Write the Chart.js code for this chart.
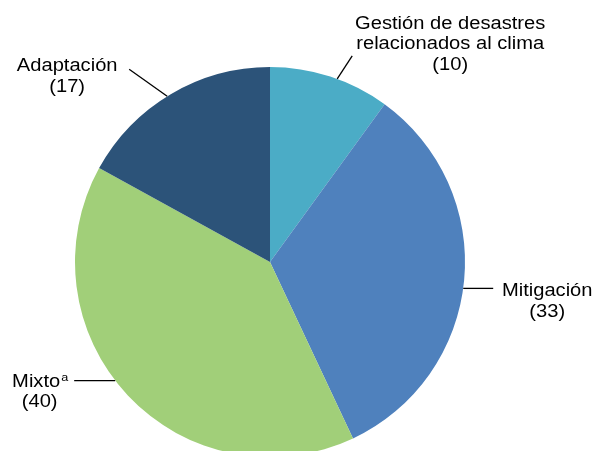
<!DOCTYPE html>
<html>
<head>
<meta charset="utf-8">
<script src="https://cdn.jsdelivr.net/npm/chart.js@4.4.0/dist/chart.umd.min.js"></script>
<style>
  html, body { margin: 0; padding: 0; background: #fff; overflow: hidden; }
  #wrap { width: 595px; height: 451px; overflow: hidden; }
</style>
</head>
<body>
<div id="wrap"><canvas id="pieChart" width="595" height="470"></canvas></div>
<script>
// categories and counts
const categories = ['Gestión de desastres relacionados al clima', 'Mitigación', 'Mixto', 'Adaptación'];
const counts = [10, 33, 40, 17];
const sliceColors = ['#4BACC6', '#4F81BD', '#A1CF79', '#2C5379'];

// label text lines per slice (last line is the count)
const labelLines = [
    ['Gestión de desastres', 'relacionados al clima', '(' + counts[0] + ')'],
    ['Mitigación', '(' + counts[1] + ')'],
    ['Mixto', '(' + counts[2] + ')'],
    ['Adaptación', '(' + counts[3] + ')']
];

// where the leader leaves the arc (fraction of the slice), which way it runs, and where the text sits
const labelLayout = [
    { frac: 0.56, lx: 15, ly: -23, dx: 98, dy: -27 },
    { frac: 0.52, lx: 30, ly: 0, dx: 54, dy: 8 },
    { frac: 0.54, lx: -41, ly: 0, dx: -34.5, dy: 6, sup: 'a' },
    { frac: 0.48, lx: -38, ly: -27, dx: -62, dy: 2 }
];

const FONT_SIZE = 17.5;
const LINE_H = 20.5;
const STRETCH = 1.15;
const FONT_FAMILY = '"Liberation Sans", Arial, sans-serif';

const leaderLabels = {
    id: 'leaderLabels',
    afterDatasetsDraw(chart) {
        const ctx = chart.ctx;
        const arcs = chart.getDatasetMeta(0).data;
        ctx.save();
        ctx.font = FONT_SIZE + 'px ' + FONT_FAMILY;
        ctx.fillStyle = '#000';
        ctx.strokeStyle = '#000';
        ctx.lineWidth = 1.3;
        arcs.forEach((arc, i) => {
            const p = arc.getProps(['x', 'y', 'startAngle', 'endAngle', 'outerRadius'], true);
            const lay = labelLayout[i];
            const a = p.startAngle + (p.endAngle - p.startAngle) * lay.frac;
            const sx = p.x + Math.cos(a) * p.outerRadius;
            const sy = p.y + Math.sin(a) * p.outerRadius;
            const ex = sx + lay.lx;
            const ey = sy + lay.ly;
            ctx.beginPath();
            ctx.moveTo(sx, sy);
            ctx.lineTo(ex, ey);
            ctx.stroke();

            const tx = ex + lay.dx;
            labelLines[i].forEach((line, k) => {
                const ty = ey + lay.dy + k * LINE_H;
                ctx.save();
                ctx.translate(tx, ty);
                ctx.scale(STRETCH, 1);
                ctx.textBaseline = 'alphabetic';
                if (k === 0 && lay.sup) {
                    // main word plus a small raised note letter, centred together
                    const w = ctx.measureText(line).width;
                    ctx.font = '11px ' + FONT_FAMILY;
                    const ws = ctx.measureText(lay.sup).width;
                    ctx.textAlign = 'left';
                    ctx.fillText(lay.sup, (w - ws) / 2 + 1, -6);
                    ctx.font = FONT_SIZE + 'px ' + FONT_FAMILY;
                    ctx.fillText(line, -(w + ws) / 2, 0);
                } else {
                    ctx.textAlign = 'center';
                    ctx.fillText(line, 0, 0);
                }
                ctx.restore();
            });
        });
        ctx.restore();
    }
};

const ctx = document.getElementById('pieChart').getContext('2d');
const pieChart = new Chart(ctx, {
    type: 'pie',
    data: {
        labels: categories,
        datasets: [{
            data: counts,
            backgroundColor: sliceColors,
            borderWidth: 0
        }]
    },
    options: {
        responsive: false,
        animation: false,
        layout: { padding: { left: 75, right: 130, top: 67, bottom: 13 } },
        plugins: {
            legend: { display: false },
            tooltip: { enabled: false }
        }
    },
    plugins: [leaderLabels]
});
</script>
</body>
</html>
